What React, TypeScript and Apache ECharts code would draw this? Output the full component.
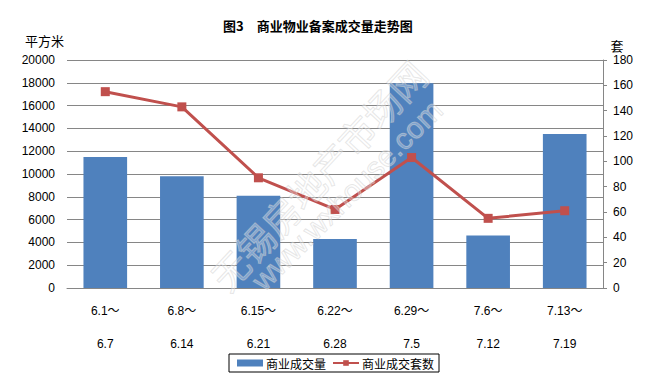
import React, { useEffect, useRef } from "react";
import * as echarts from "echarts";

const categories = ["6.1～\n6.7", "6.8～\n6.14", "6.15～\n6.21", "6.22～\n6.28", "6.29～\n7.5", "7.6～\n7.12", "7.13～\n7.19"];
const areaValues = [11500, 9800, 8100, 4300, 17950, 4600, 13500];
const unitValues = [155, 143, 87, 62, 103, 55, 61];
const leftTicks = { min: 0, max: 20000, interval: 2000 };
const rightTicks = { min: 0, max: 180, interval: 20 };

const CJK = "'Noto Sans CJK SC', 'Liberation Sans', sans-serif";
const NUM = "'Liberation Sans', 'Noto Sans CJK SC', sans-serif";

export default function App() {
  const ref = useRef<HTMLDivElement>(null);
  useEffect(() => {
    if (!ref.current) return;
    const chart = echarts.init(ref.current, null, { renderer: "svg" });
    chart.setOption({
      animation: false,
      backgroundColor: "#ffffff",
      grid: { left: 67, right: 47, top: 60, bottom: 97, containLabel: false },
      graphic: [
        {
          type: "rect",
          shape: { x: 3.5, y: 2.5, width: 642, height: 377 },
          style: { fill: "none", stroke: "#000", lineWidth: 1.5 },
          z: 100,
        },
        {
          type: "text",
          x: 223,
          y: 25,
          style: {
            text: "图3　商业物业备案成交量走势图",
            font: "bold 13px " + CJK,
            fill: "#000",
            textVerticalAlign: "middle",
          },
        },
        {
          type: "text",
          x: 25,
          y: 40,
          style: { text: "平方米", font: "13px " + CJK, fill: "#000", textVerticalAlign: "middle" },
        },
        {
          type: "text",
          x: 617,
          y: 45,
          style: { text: "套", font: "13px " + CJK, fill: "#000", textAlign: "center", textVerticalAlign: "middle" },
        },
        {
          type: "text",
          x: 318,
          y: 175,
          rotation: (47 * Math.PI) / 180,
          z: 50,
          style: {
            text: "无锡房地产市场网",
            font: "37px " + CJK,
            fill: "rgba(255,255,255,0.3)",
            stroke: "rgba(200,200,200,0.5)",
            lineWidth: 1,
            textAlign: "center",
            textVerticalAlign: "middle",
          },
        },
        {
          type: "text",
          x: 347,
          y: 195,
          rotation: (45 * Math.PI) / 180,
          z: 50,
          style: {
            text: "www.wxhouse.com",
            font: "30px " + NUM,
            fill: "rgba(255,255,255,0.3)",
            stroke: "rgba(200,200,200,0.5)",
            lineWidth: 1,
            textAlign: "center",
            textVerticalAlign: "middle",
          },
        },
      ],
      legend: {
        left: 229,
        top: 354,
        padding: [3, 5, 3, 8],
        borderColor: "#000",
        borderWidth: 1,
        itemWidth: 26,
        itemHeight: 7,
        itemGap: 6,
        textStyle: { fontSize: 12, fontFamily: CJK, color: "#000", padding: [0, 0, 0, -2] },
        data: [
          { name: "商业成交量", icon: "rect" },
          { name: "商业成交套数" },
        ],
      },
      xAxis: {
        type: "category",
        data: categories,
        axisLine: { show: true, lineStyle: { color: "#868686", width: 1 } },
        axisTick: { show: false },
        axisLabel: {
          color: "#000",
          fontSize: 12,
          fontFamily: NUM,
          lineHeight: 33,
          margin: 6,
          interval: 0,
        },
      },
      yAxis: [
        {
          type: "value",
          min: leftTicks.min,
          max: leftTicks.max,
          interval: leftTicks.interval,
          axisLine: { show: false },
          axisTick: { show: false },
          axisLabel: { color: "#000", fontSize: 12, fontFamily: NUM, margin: 12, formatter: (v: number) => String(v) },
          splitLine: { show: true, lineStyle: { color: "#868686", width: 1 } },
        },
        {
          type: "value",
          position: "right",
          min: rightTicks.min,
          max: rightTicks.max,
          interval: rightTicks.interval,
          axisLine: { show: true, lineStyle: { color: "#868686", width: 1 } },
          axisTick: { show: true, inside: false, length: 4, lineStyle: { color: "#868686" } },
          axisLabel: { color: "#000", fontSize: 12, fontFamily: NUM, margin: 10, formatter: (v: number) => String(v) },
          splitLine: { show: false },
        },
      ],
      series: [
        {
          name: "商业成交量",
          type: "bar",
          yAxisIndex: 0,
          data: areaValues,
          barWidth: "57%",
          itemStyle: { color: "#4F81BD" },
          z: 2,
        },
        {
          name: "商业成交套数",
          type: "line",
          yAxisIndex: 1,
          data: unitValues,
          symbol: "rect",
          symbolSize: 9,
          itemStyle: { color: "#C0504D" },
          lineStyle: { color: "#C0504D", width: 3 },
          z: 3,
        },
      ],
    });
    return () => chart.dispose();
  }, []);
  return <div ref={ref} style={{ width: 650, height: 385, margin: -8 }} />;
}
